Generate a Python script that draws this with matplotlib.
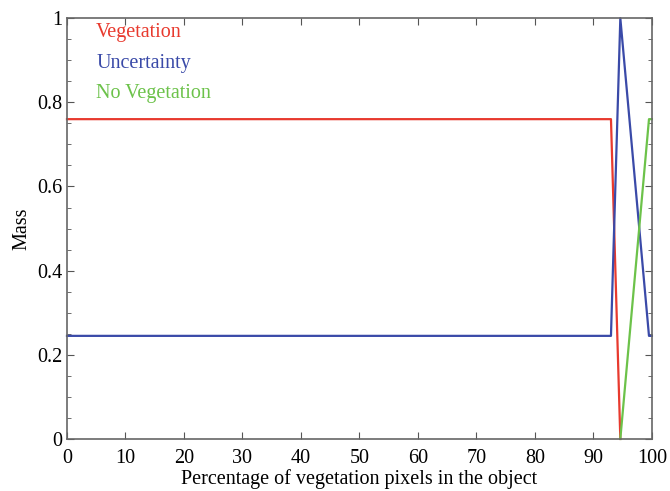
import matplotlib.pyplot as plt
from matplotlib.ticker import MultipleLocator

plt.rcParams["font.family"] = ["Liberation Serif", "DejaVu Serif"]

# data
veg_x = [0, 93, 94.6]
vegetation = [0.76, 0.76, 0.0]
unc_x = [0, 93, 94.6, 99.5, 100]
uncertainty = [0.245, 0.245, 1.0, 0.245, 0.245]
noveg_x = [94.6, 99.5, 100]
no_vegetation = [0.0, 0.76, 0.76]

labels = ["Vegetation", "Uncertainty", "No Vegetation"]
colors = ["#e83a2e", "#3a4aa8", "#6cc24a"]

fig = plt.figure(figsize=(6.7, 4.91), dpi=100)
ax = fig.add_axes([0.1, 0.106, 0.873, 0.857])

for xs, ys, c in zip([veg_x, unc_x, noveg_x],
                     [vegetation, uncertainty, no_vegetation], colors):
    ax.plot(xs, ys, color=c, lw=1.6, clip_on=False)

ax.set_xlim(0, 100)
ax.set_ylim(0, 1)
ax.xaxis.set_major_locator(MultipleLocator(10))
ax.yaxis.set_minor_locator(MultipleLocator(0.05))
ax.set_yticks([0, 0.2, 0.4, 0.6, 0.8, 1.0])
ax.set_yticklabels(["0", "0.2", "0.4", "0.6", "0.8", "1"])
ax.tick_params(which="both", direction="in", top=True, right=True,
               labelsize=14.5, colors="#555555", labelcolor="black")
ax.tick_params(axis="x", pad=7)
ax.tick_params(which="major", length=5)
ax.tick_params(which="minor", length=3)
for s in ax.spines.values():
    s.set_color("#666666")
    s.set_linewidth(1.2)

ax.set_xlabel("Percentage of vegetation pixels in the object", fontsize=14.5, labelpad=1)
ax.set_ylabel("Mass", fontsize=14.5, labelpad=4)

for i, (lab, c) in enumerate(zip(labels, colors)):
    ax.text(0.05, 0.965 - i * 0.072, lab, color=c, fontsize=14.5,
            transform=ax.transAxes, va="center", ha="left")

fig.savefig("out.png", dpi=100)
